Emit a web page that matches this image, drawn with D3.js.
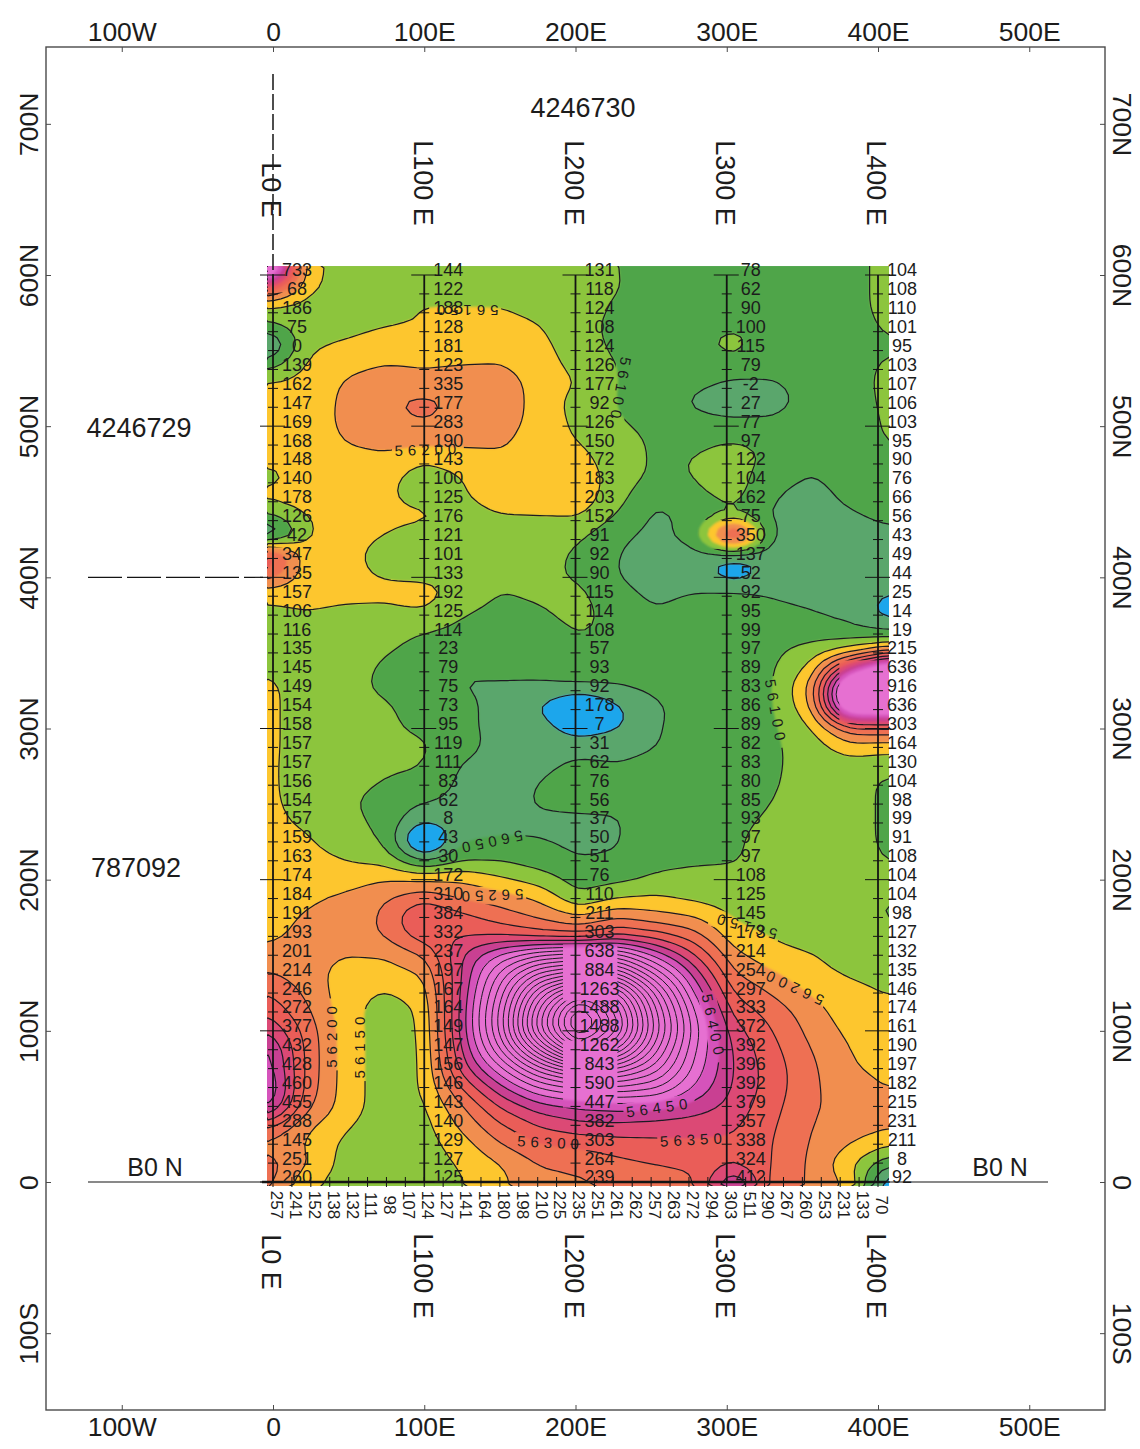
<!DOCTYPE html>
<html>
<head>
<meta charset="utf-8">
<style>
  html, body { margin: 0; padding: 0; background: #fff; }
  svg { display: block; }
  text { font-family: "Liberation Sans", Arial, sans-serif; fill: #1c1c1c; }
</style>
<script src="https://cdn.jsdelivr.net/npm/d3@7"></script>
</head>
<body>
<div class="container"></div>
<script>
// station readings printed along each survey line, 600N down to 0N every 12.5 m
var line0 = ["733","68","186","75","0","139","162","147","169","168","148","140","178","126","42","347","135","157","106","116","135","145","149","154","158","157","157","156","154","157","159","163","174","184","191","193","201","214","246","272","377","432","428","460","455","288","145","251","260"];
var line100 = ["144","122","188","128","181","123","335","177","283","190","143","100","125","176","121","101","133","192","125","114","23","79","75","73","95","119","111","83","62","8","43","30","172","310","384","332","237","197","167","164","149","147","156","146","143","140","129","127","125"];
var line200 = ["131","118","124","108","124","126","177","92","126","150","172","183","203","152","91","92","90","115","114","108","57","93","92","178","7","31","62","76","56","37","50","51","76","110","211","303","638","884","1263","1488","1488","1262","843","590","447","382","303","264","239"];
var line300 = ["78","62","90","100","115","79","-2","27","77","97","122","104","162","75","350","137","52","92","95","99","97","89","83","86","89","82","83","80","85","93","97","97","108","125","145","173","214","254","297","333","372","392","396","392","379","357","338","324","412"];
var line400 = ["104","108","110","101","95","103","107","106","103","95","90","76","66","56","43","49","44","25","14","19","215","636","916","636","303","164","130","104","98","99","91","108","104","104","98","127","132","135","146","174","161","190","197","182","215","231","211","8","92"];
// readings along the B0 N base line, 0E to 400E every 12.5 m
var baseLine = ["257","241","152","138","132","111","98","107","124","127","141","164","180","198","210","225","235","251","261","262","257","263","272","294","303","511","290","267","260","253","231","133","70"];

var lineEast = [0, 100, 200, 300, 400];
var lineNames = ["L0 E", "L100 E", "L200 E", "L300 E", "L400 E"];

// contoured field minus 56000 nT: rows 600N to 0N (12.5 m), columns 0E to 400E (25 m)
var fieldGrid = [
  [700,170,125,98,125,125,125,125,120,100,85,85,88,88,88,92,108],
  [350,165,125,125,125,128,128,125,118,102,85,85,82,85,85,92,108],
  [140,130,125,128,155,148,148,130,115,95,82,85,90,85,85,90,110],
  [95,130,135,148,150,175,170,152,108,93,82,85,92,85,85,88,105],
  [-30,140,155,170,185,190,185,165,118,90,82,88,118,70,85,88,97],
  [70,155,185,198,195,195,198,175,130,98,85,80,85,78,85,92,103],
  [160,165,205,225,210,222,225,180,150,98,85,62,40,42,78,90,107],
  [165,160,215,240,270,235,235,178,130,98,75,40,20,25,72,88,106],
  [165,165,215,235,250,232,228,178,138,102,85,62,55,58,82,88,104],
  [170,160,205,225,225,222,210,172,148,118,92,88,96,85,85,88,102],
  [165,165,180,185,155,170,190,180,165,125,92,102,130,85,54,78,97],
  [130,170,175,165,125,148,185,195,185,125,90,102,130,58,48,60,76],
  [170,175,170,160,125,145,172,175,185,118,55,88,115,52,40,56,66],
  [90,150,170,165,165,130,148,150,153,95,40,60,85,42,38,46,56],
  [-40,146,170,150,122,122,120,120,108,60,35,75,440,42,38,40,43],
  [370,170,165,130,118,122,120,118,92,50,30,32,8,25,35,38,49],
  [300,170,165,142,130,128,110,115,90,48,30,25,-45,22,35,40,44],
  [165,170,165,165,175,130,100,108,112,62,38,50,62,45,38,35,0],
  [140,148,140,138,148,105,85,96,118,78,52,70,78,60,50,35,-30],
  [125,135,130,118,100,88,80,78,102,92,78,85,90,78,72,60,40],
  [135,135,125,105,85,80,75,72,90,85,85,88,92,88,118,150,215],
  [145,135,120,92,75,52,58,60,70,75,80,85,88,92,165,430,636],
  [158,133,115,90,72,48,45,45,48,45,62,78,85,93,215,700,916],
  [157,135,122,108,78,62,35,-5,-95,-10,42,72,88,92,195,650,636],
  [157,135,120,110,88,60,35,25,-40,-10,45,75,85,90,150,290,303],
  [157,135,120,112,108,72,30,30,30,35,48,75,82,92,122,185,175],
  [156,135,120,108,102,45,30,38,60,50,62,78,83,93,118,125,118],
  [156,135,120,98,88,38,30,52,72,72,80,82,85,95,120,122,88],
  [155,140,110,75,52,35,35,55,60,60,78,85,90,100,120,122,88],
  [157,145,118,85,10,30,40,42,42,45,80,88,95,104,122,122,88],
  [158,155,125,95,-110,45,52,50,40,45,85,92,97,108,122,122,88],
  [165,165,150,130,35,90,95,72,50,55,88,93,97,110,122,122,97],
  [165,175,170,195,195,195,155,125,78,85,105,112,108,115,125,125,112],
  [170,190,215,245,280,240,225,190,105,145,158,135,125,120,125,125,102],
  [175,208,215,260,370,320,275,240,205,245,215,200,145,125,125,125,90],
  [190,215,222,255,330,345,345,320,303,345,325,270,170,148,125,122,125],
  [215,222,203,203,250,400,510,600,638,620,480,350,214,165,155,125,132],
  [255,225,175,175,200,400,620,820,884,860,640,430,254,208,165,145,135],
  [300,240,170,145,170,410,680,1020,1263,1130,790,490,297,245,195,165,146],
  [340,260,170,125,155,420,720,1130,1486,1250,860,550,333,280,222,170,170],
  [400,280,175,125,152,420,720,1150,1488,1270,880,570,372,300,235,188,165],
  [470,285,175,125,150,400,650,950,1262,1100,810,550,392,315,250,200,170],
  [480,285,175,125,150,370,530,720,843,830,720,530,396,325,260,205,190],
  [510,280,175,125,150,300,430,540,590,630,600,490,392,325,260,218,197],
  [470,260,175,125,140,240,350,420,447,455,460,425,379,315,255,235,225],
  [300,205,155,120,130,210,290,350,382,385,370,365,357,305,250,225,208],
  [230,195,135,118,125,175,245,295,303,320,335,340,338,300,245,198,155],
  [280,205,128,115,122,155,195,250,264,285,300,310,345,300,240,155,55],
  [260,158,125,110,120,145,190,230,239,255,265,290,480,275,245,190,-60]
];

var bandLevels = [-2000, 0, 50, 100, 150, 200, 250, 300, 350, 400, 450, 500];
var bandColors = ["#1aa6ec", "#5aa66c", "#4fa54a", "#8cc53d", "#fdc62e", "#f18e4f", "#ee7053", "#ea5d58", "#dc4a74", "#c93f92", "#d553bb", "#e66fd1"];

// contour labels: text, position on the map, rotation
var labelText = ["56150","56200","56100","56100","56050","56250","56200","56150","56400","56450","56300","56350","56200","56150"];
var labelEast = [127,103,227,327,143,143,338,307,287,252,182,274,41,59];
var labelNorth = [572,481,520,309,224,189,129,169,103,50,27,29,98,91];
var labelAngle = [180,-2,100,80,168,178,205,195,78,-8,3,-3,-90,-90];

// stretches of the map where the original has no contour lines: [east0, east1, north0, north1]
var blanks = [[0,21,584,606],[368,402,302,343],[277,317,416,435],[190,225,120,157],[190,225,50,94],[0,14,397,417]];

var xTicks = [-100, 0, 100, 200, 300, 400, 500];
var xTickNames = ["100W", "0", "100E", "200E", "300E", "400E", "500E"];
var yTicks = [700, 600, 500, 400, 300, 200, 100, 0, -100];
var yTickNames = ["700N", "600N", "500N", "400N", "300N", "200N", "100N", "0", "100S"];

var width = 1140, height = 1449;
var svg = d3.select(".container").append("svg")
    .attr("width", width)
    .attr("height", height);

// survey scales
var x = d3.scaleLinear().domain([0, 400]).range([273, 878]);
var y = d3.scaleLinear().domain([0, 600]).range([1182, 275]);
// the colour image sits slightly off the survey lines in the scan
var fieldX = d3.scaleLinear().domain([0, 400]).range([268, 889]);
var fieldY = d3.scaleLinear().domain([0, 600]).range([1184, 268]);

var defs = svg.append("defs");
defs.append("clipPath").attr("id", "mapClip").append("rect")
    .attr("x", 267).attr("y", 266).attr("width", 622).attr("height", 920);
defs.append("filter").attr("id", "soft")
    .attr("x", "-2%").attr("y", "-2%").attr("width", "104%").attr("height", "104%")
    .append("feGaussianBlur").attr("stdDeviation", 1.3);

// finer lattice for drawing, so the contours come out round instead of cell shaped
var nRows = fieldGrid.length, nCols = fieldGrid[0].length;
var kx = 6, ky = 3;
var fineW = (nCols - 1) * kx + 1, fineH = (nRows - 1) * ky + 1;
var fine = new Float64Array(fineW * fineH);
for (var j = 0; j < fineH; j++) {
  var r = Math.min(Math.floor(j / ky), nRows - 2), tr = j / ky - r;
  for (var i = 0; i < fineW; i++) {
    var c = Math.min(Math.floor(i / kx), nCols - 2), tc = i / kx - c;
    fine[j * fineW + i] =
      d3.interpolateNumber(
        d3.interpolateNumber(fieldGrid[r][c], fieldGrid[r][c + 1])(tc),
        d3.interpolateNumber(fieldGrid[r + 1][c], fieldGrid[r + 1][c + 1])(tc))(tr);
  }
}
d3.blur2({data: fine, width: fineW, height: fineH}, 0.5);

var contours = d3.contours().size([fineW, fineH]);

var ringLine = d3.line()
    .x(function(p) { return fieldX((p[0] - 0.5) / kx * 25); })
    .y(function(p) { return fieldY(600 - (p[1] - 0.5) / ky * 12.5); });

function contourPath(c) {
  var d = "";
  c.coordinates.forEach(function(poly) {
    poly.forEach(function(ring) {
      d += ringLine(ring) + "Z";
    });
  });
  return d;
}

var map = svg.append("g").attr("clip-path", "url(#mapClip)");

map.append("g").attr("filter", "url(#soft)")
  .selectAll("path")
  .data(contours.thresholds(bandLevels)(fine))
  .enter().append("path")
    .attr("d", contourPath)
    .attr("fill-rule", "evenodd")
    .attr("fill", function(d, i) { return bandColors[i]; });

// contour lines are broken where their labels sit
var mask = defs.append("mask").attr("id", "lineMask")
    .attr("maskUnits", "userSpaceOnUse")
    .attr("x", 0).attr("y", 0).attr("width", width).attr("height", height);
mask.append("rect").attr("width", width).attr("height", height).attr("fill", "#fff");
labelText.forEach(function(t, i) {
  mask.append("rect")
    .attr("x", -36).attr("y", -9).attr("width", 72).attr("height", 18)
    .attr("fill", "#000")
    .attr("transform", "translate(" + fieldX(labelEast[i]) + "," + fieldY(labelNorth[i]) + ") rotate(" + labelAngle[i] + ")");
});
blanks.forEach(function(b) {
  mask.append("rect")
    .attr("x", fieldX(b[0])).attr("width", fieldX(b[1]) - fieldX(b[0]))
    .attr("y", fieldY(b[3])).attr("height", fieldY(b[2]) - fieldY(b[3]))
    .attr("fill", "#000");
});

var lineLevels = d3.range(0, 1451, 50);
map.append("g").attr("mask", "url(#lineMask)")
  .selectAll("path")
  .data(contours.thresholds(lineLevels)(fine))
  .enter().append("path")
    .attr("d", contourPath)
    .attr("fill", "none")
    .attr("stroke", "#1d1a22")
    .attr("stroke-width", function(d) { return d.value > 450 ? 1 : 1.2; });

labelText.forEach(function(t, i) {
  svg.append("text")
    .attr("transform", "translate(" + fieldX(labelEast[i]) + "," + fieldY(labelNorth[i]) + ") rotate(" + labelAngle[i] + ")")
    .attr("text-anchor", "middle")
    .attr("dy", ".35em")
    .style("font-size", "15px")
    .style("letter-spacing", "5px")
    .text(t);
});

// frame and axes
svg.append("rect")
    .attr("x", 46).attr("y", 47).attr("width", 1059).attr("height", 1363)
    .attr("fill", "none").attr("stroke", "#4a4a4a").attr("stroke-width", 1.4);

var xFrame = d3.scaleLinear().domain([-100, 500]).range([x(-100), x(500)]);
var yFrame = d3.scaleLinear().domain([-100, 700]).range([y(-100), y(700)]);
function nameOf(list, names) { return function(v) { return names[list.indexOf(v)]; }; }

function styleAxis(g) {
  g.select(".domain").remove();
  g.selectAll("line").attr("stroke", "#4a4a4a");
  g.selectAll("text").style("font-size", "26.5px").attr("fill", "#1c1c1c");
}

svg.append("g").attr("transform", "translate(0,47)")
    .call(d3.axisTop(xFrame).tickValues(xTicks).tickFormat(nameOf(xTicks, xTickNames)).tickSizeInner(-5).tickSizeOuter(0).tickPadding(6))
    .call(styleAxis);
svg.append("g").attr("transform", "translate(0,1410)")
    .call(d3.axisBottom(xFrame).tickValues(xTicks).tickFormat(nameOf(xTicks, xTickNames)).tickSizeInner(-5).tickSizeOuter(0).tickPadding(7))
    .call(styleAxis);
svg.append("g").attr("transform", "translate(46,0)")
    .call(d3.axisLeft(yFrame).tickValues(yTicks).tickFormat(nameOf(yTicks, yTickNames)).tickSizeInner(-5).tickSizeOuter(0))
    .call(styleAxis)
    .selectAll("text")
    .attr("x", 0).attr("dy", 0).attr("text-anchor", "middle")
    .attr("transform", "translate(-8,0) rotate(-90)");
svg.append("g").attr("transform", "translate(1105,0)")
    .call(d3.axisRight(yFrame).tickValues(yTicks).tickFormat(nameOf(yTicks, yTickNames)).tickSizeInner(-5).tickSizeOuter(0))
    .call(styleAxis)
    .selectAll("text")
    .attr("x", 0).attr("dy", 0).attr("text-anchor", "middle")
    .attr("transform", "translate(8,0) rotate(90)");

// survey lines with station ticks
var stations = d3.range(0, 48.5).map(function(i) { return 600 - i * 12.5; });
var lineData = [line0, line100, line200, line300, line400];

var survey = svg.append("g").attr("stroke", "#141414");
lineEast.forEach(function(e) {
  survey.append("line")
    .attr("x1", x(e)).attr("x2", x(e))
    .attr("y1", y(600)).attr("y2", y(0))
    .attr("stroke-width", 1.8);
  survey.selectAll(null)
    .data(stations)
    .enter().append("line")
      .attr("x1", function(n) { return x(e) - (n % 100 == 0 ? 13 : 5); })
      .attr("x2", function(n) { return x(e) + (n % 100 == 0 ? 12 : 5); })
      .attr("y1", function(n) { return y(n); })
      .attr("y2", function(n) { return y(n); })
      .attr("stroke-width", 1);
});

// dashed extensions outside the grid
svg.append("line")
    .attr("x1", x(0)).attr("x2", x(0)).attr("y1", 74).attr("y2", y(600))
    .attr("stroke", "#141414").attr("stroke-width", 1.5).attr("stroke-dasharray", "16,4");
svg.append("line")
    .attr("x1", 88).attr("x2", x(0) - 10).attr("y1", y(400)).attr("y2", y(400))
    .attr("stroke", "#141414").attr("stroke-width", 1.2).attr("stroke-dasharray", "34,5");

// base line
svg.append("line")
    .attr("x1", 88).attr("x2", 1048).attr("y1", y(0)).attr("y2", y(0))
    .attr("stroke", "#141414").attr("stroke-width", 1.2);
svg.append("line")
    .attr("x1", 262).attr("x2", x(400) + 8).attr("y1", y(0)).attr("y2", y(0))
    .attr("stroke", "#141414").attr("stroke-width", 2.4);
survey.selectAll(null)
    .data(d3.range(0, 32.5))
    .enter().append("line")
      .attr("x1", function(i) { return x(i * 12.5); })
      .attr("x2", function(i) { return x(i * 12.5); })
      .attr("y1", y(0) - 5)
      .attr("y2", y(0) + 5)
      .attr("stroke-width", 1);

// station readings
lineEast.forEach(function(e, j) {
  svg.append("g").selectAll("text")
    .data(lineData[j])
    .enter().append("text")
      .attr("x", x(e) + 24)
      .attr("y", function(d, i) { return y(stations[i]) - 5; })
      .attr("dy", ".36em")
      .attr("text-anchor", "middle")
      .style("font-size", "18px")
      .text(function(d) { return d; });
});

svg.append("g").selectAll("text")
    .data(baseLine)
    .enter().append("text")
      .attr("transform", function(d, i) { return "translate(" + (x(i * 12.5) + 4) + ",1205) rotate(90)"; })
      .attr("dy", ".36em")
      .attr("text-anchor", "middle")
      .style("font-size", "17px")
      .text(function(d) { return d; });

// line names, top and bottom
lineEast.forEach(function(e, j) {
  [j == 0 ? 190 : 183, j == 0 ? 1262 : 1276].forEach(function(cy) {
    svg.append("text")
      .attr("transform", "translate(" + (x(e) - 1) + "," + cy + ") rotate(90)")
      .attr("dy", ".36em")
      .attr("text-anchor", "middle")
      .style("font-size", "27px")
      .text(lineNames[j]);
  });
});

// grid reference notes
var noteText = ["4246730", "4246729", "787092", "B0 N", "B0 N"];
var noteX = [583, 139, 136, 155, 1000];
var noteY = [107, 427, 867, 1167, 1167];
noteText.forEach(function(t, i) {
  svg.append("text")
    .attr("x", noteX[i]).attr("y", noteY[i])
    .attr("dy", ".36em")
    .attr("text-anchor", "middle")
    .style("font-size", i < 3 ? "27px" : "25px")
    .text(t);
});
</script>
</body>
</html>
